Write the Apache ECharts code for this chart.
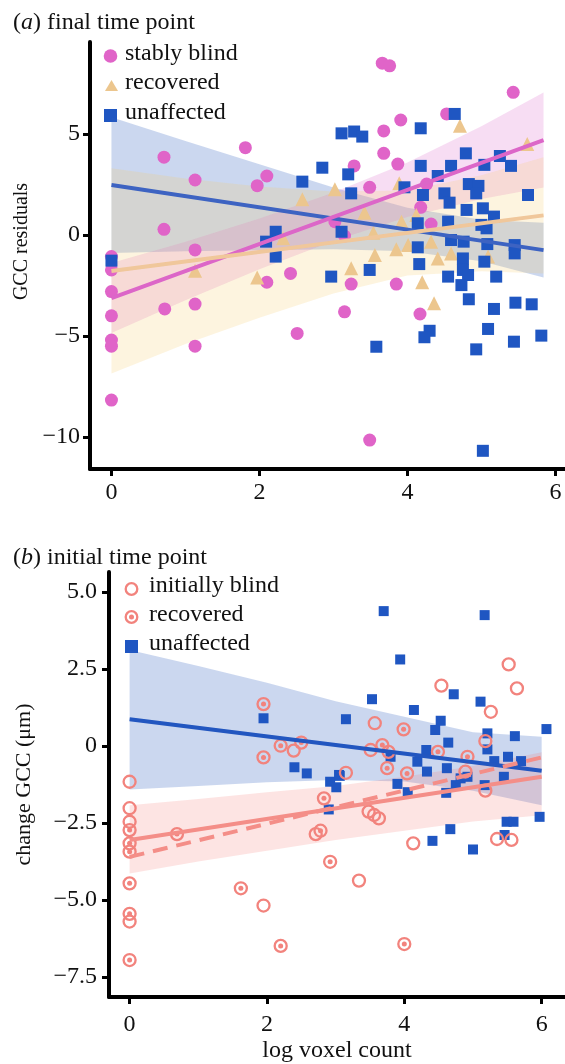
<!DOCTYPE html>
<html>
<head>
<meta charset="utf-8">
<script src="https://cdn.jsdelivr.net/npm/echarts@6/dist/echarts.min.js"></script>
<style>
  html, body { margin: 0; padding: 0; background: #fff; }
  #main { width: 565px; height: 1064px; }
</style>
</head>
<body>
<div id="main"></div>
<script>
// ---- panel (a) final time point : [log voxel count, GCC residual]
var blindA = [[0.71,3.85],[1.81,4.32],[1.13,2.72],[2.10,2.92],[1.97,2.44],[0.71,0.28],[1.13,-0.74],[0,-1.07],
  [0,-1.73],[0,-2.8],[0.72,-3.66],[1.13,-3.42],[0,-4.0],[0,-5.2],[0,-5.5],[1.13,-5.5],[0,-8.17],[2.1,-2.34],
  [2.42,-1.9],[2.51,-4.87],[3.24,-2.43],[3.85,-2.43],[3.15,-3.8],[4.17,-3.91],[3.49,-10.15],[3.66,8.5],[3.76,8.37],
  [5.43,7.06],[4.53,5.99],[3.91,5.69],[3.68,5.15],[3.68,4.04],[3.28,3.42],[3.87,3.51],[3.49,2.36],[4.26,2.52],
  [4.18,1.37],[4.32,0.54],[3.02,0.66],[3.15,-0.05]];
var recoveredA = [[2.58,1.77],[2.32,-0.16],[1.97,-2.1],[1.13,-1.77],[4.71,5.4],[5.62,4.5],[3.02,2.26],[3.89,2.56],
  [3.42,1.1],[3.92,0.66],[4.12,0.99],[3.54,0.11],[4.32,-0.33],[3.85,-0.71],[3.56,-0.99],[4.41,-1.16],[4.59,-0.91],
  [3.24,-1.65],[5.09,-1.07],[4.01,-0.5],[4.2,-2.34],[4.36,-3.38]];
var unaffectedA = [[0,-1.27],[2.58,2.64],[2.85,3.33],[2.22,0.16],[2.09,-0.33],[2.22,-1.07],[2.97,-2.06],[3.11,5.03],
  [3.28,5.12],[3.39,4.87],[4.18,5.28],[4.64,5.99],[3.2,3.0],[3.24,2.06],[4.18,3.42],[4.59,3.42],[4.79,4.04],[5.04,3.47],
  [5.25,3.91],[5.40,3.42],[5.63,1.98],[4.41,2.92],[3.96,2.36],[4.21,1.98],[4.5,2.06],[4.57,1.6],[4.83,2.52],[4.96,2.43],
  [4.93,2.06],[4.8,1.24],[5.02,1.32],[5.17,0.91],[4.14,0.58],[4.55,0.66],[5.0,0.5],[5.07,0.33],[3.11,0.16],[4.59,-0.25],
  [4.76,-0.33],[5.08,-0.45],[5.45,-0.5],[4.14,-0.61],[3.49,-1.73],[4.16,-1.44],[4.75,-1.16],[5.04,-1.32],[5.45,-0.91],
  [4.75,-1.73],[4.55,-2.06],[5.2,-2.06],[4.82,-1.98],[4.73,-2.48],[4.83,-3.18],[5.17,-3.66],[5.46,-3.35],[5.68,-3.43],
  [5.09,-4.65],[4.3,-4.74],[4.23,-5.06],[5.81,-4.98],[5.44,-5.28],[4.93,-5.66],[3.58,-5.53],[5.02,-10.68]];

// fitted lines (a)
var fitBlindA = [[0,-3.12],[5.84,4.7]];
var fitRecoveredA = [[0,-1.78],[5.84,0.97]];
var fitUnaffectedA = [[0,2.47],[5.84,-0.75]];
// confidence bands (a)
var bandXA = [0, 1, 2, 3, 4, 5, 5.84];
var blindLoA = [-4.85,-3.23,-1.69,-0.3,0.89,1.78,2.35];
var blindHiA = [-1.39,-0.33,0.81,2.1,3.59,5.38,7.05];
var recLoA = [-6.85,-5.4,-4.1,-2.9,-2.0,-1.8,-1.9];
var recHiA = [3.3,2.8,2.4,2.15,2.2,2.95,3.85];
var unLoA = [-0.89,-0.81,-0.76,-0.71,-0.8,-1.3,-2.1];
var unHiA = [5.83,4.65,3.5,2.35,1.35,0.75,0.6];

// ---- panel (b) initial time point : [log voxel count, change GCC]
var blindB = [[2.39,-0.15],[0,-1.16],[0,-2.02],[0,-2.46],[0,-5.7],[1.95,-5.18],[2.71,-2.86],[5.52,2.65],[4.54,1.96],
  [5.64,1.87],[5.26,1.11],[3.57,0.74],[5.18,0.16],[3.51,-0.13],[3.77,-0.19],[3.15,-0.87],[4.89,-0.83],[3.48,-2.13],
  [3.56,-2.24],[3.63,-2.35],[3.34,-4.37],[4.13,-3.16],[5.18,-1.45],[5.35,-3.02],[5.56,-3.05]];
var recoveredB = [[1.95,1.36],[1.95,-0.37],[2.2,0.01],[2.5,0.11],[0,-2.73],[0,-3.16],[0,-3.43],[0,-4.46],[0,-5.45],
  [0,-6.95],[0.69,-2.86],[1.62,-4.62],[2.2,-6.49],[2.83,-1.7],[2.78,-2.75],[2.92,-3.76],[3.99,0.54],[3.68,0.03],
  [4.49,-0.19],[4.92,-0.35],[3.75,-0.72],[4.04,-0.89],[4.0,-6.43]];
var unaffectedB = [[1.95,0.9],[2.4,-0.69],[2.58,-0.89],[2.92,-1.16],[3.7,4.38],[5.17,4.25],[3.94,2.81],[3.53,1.52],
  [4.72,1.68],[5.11,1.44],[4.14,1.17],[3.15,0.87],[4.53,0.82],[4.45,0.52],[4.64,0.11],[5.21,0.41],[5.61,0.32],[6.07,0.55],
  [5.21,-0.11],[4.32,-0.13],[4.19,-0.51],[3.05,-0.94],[4.33,-0.83],[4.62,-0.72],[5.31,-0.49],[5.51,-0.35],[5.7,-0.49],
  [5.45,-1.0],[3.8,-0.35],[3.01,-1.34],[3.06,-0.97],[3.9,-1.23],[4.61,-1.52],[4.75,-1.27],[4.82,-1.05],[4.92,-1.0],
  [5.17,-1.27],[4.05,-1.5],[2.9,-2.06],[4.67,-2.7],[4.41,-3.08],[5.0,-3.36],[5.49,-2.46],[5.59,-2.46],[5.46,-2.89],[5.97,-2.3]];

var fitBlindB = [[0,-3.05],[6,-1.0]];
var fitRecoveredB = [[0,-3.6],[6,-0.37]];
var fitUnaffectedB = [[0,0.87],[6,-0.8]];
var bandXB = [0, 1, 2, 3, 4, 5, 6];
var blindLoB = [-4.14,-3.75,-3.4,-3.05,-2.75,-2.45,-2.25];
var blindHiB = [-1.92,-1.72,-1.5,-1.3,-1.0,-0.65,-0.2];
var unLoB = [-1.41,-1.3,-1.18,-1.1,-1.15,-1.45,-1.92];
var unHiB = [3.12,2.6,2.05,1.45,0.95,0.45,0.3];

// ticks
var xTicks = [0, 2, 4, 6];
var yTicksA = [-10, -5, 0, 5];
var yLabelsA = ['−10', '−5', '0', '5'];
var yTicksB = [-7.5, -5, -2.5, 0, 2.5, 5];
var yLabelsB = ['−7.5', '−5.0', '−2.5', '0', '2.5', '5.0'];

var FONT = "'Liberation Serif', 'Times New Roman', Times, serif";
var PINK = '#e064c8', TAN = '#ecc68e', BLUE = '#1f56c2', SALMON = '#f2837d';

var chart = echarts.init(document.getElementById('main'));

function band(xs, lo, hi, fill, idx) {
  var rows = xs.map(function (x, i) { return [x, lo[i], hi[i]]; });
  return {
    type: 'custom', xAxisIndex: idx, yAxisIndex: idx, silent: true,
    data: rows,
    encode: { x: 0, y: [1, 2] },
    renderItem: function (params, api) {
      if (params.dataIndex !== 0) return;
      var top = rows.map(function (r) { return api.coord([r[0], r[2]]); });
      var bot = rows.map(function (r) { return api.coord([r[0], r[1]]); }).reverse();
      return { type: 'polygon', shape: { points: top.concat(bot) }, style: { fill: fill } };
    }
  };
}

function fit(data, color, idx, dash) {
  return {
    type: 'line', xAxisIndex: idx, yAxisIndex: idx, data: data, showSymbol: false, silent: true,
    lineStyle: { color: color, width: 4, type: dash ? [15, 9] : 'solid' }
  };
}

function xAxis(idx, min, max, margin, name) {
  return {
    gridIndex: idx, type: 'value', min: min, max: max,
    name: name || '', nameLocation: 'middle', nameGap: 42,
    nameTextStyle: { fontFamily: FONT, fontSize: 24, color: '#111' },
    axisLine: { onZero: false, lineStyle: { color: '#000', width: 4 } },
    axisTick: { customValues: xTicks, length: 7, lineStyle: { width: 3, color: '#000' } },
    axisLabel: { customValues: xTicks, margin: margin, fontFamily: FONT, fontSize: 24, color: '#111' },
    splitLine: { show: false }
  };
}

function yAxis(idx, min, max, ticks, labels, name, gap, margin, nameSize, namePad) {
  return {
    gridIndex: idx, type: 'value', min: min, max: max,
    name: name, nameLocation: 'middle', nameGap: gap,
    nameTextStyle: { fontFamily: FONT, fontSize: nameSize, color: '#111', padding: namePad },
    axisLine: { show: true, onZero: false, lineStyle: { color: '#000', width: 4 } },
    axisTick: { show: true, customValues: ticks, length: 7, lineStyle: { width: 3, color: '#000' } },
    axisLabel: {
      customValues: ticks, margin: margin, fontFamily: FONT, fontSize: 24, color: '#111',
      formatter: function (v) {
        for (var i = 0; i < ticks.length; i++) if (Math.abs(ticks[i] - v) < 1e-6) return labels[i];
        return '';
      }
    },
    splitLine: { show: false }
  };
}

function lt(x, y, s) {
  return { type: 'text', left: x, top: y - 13,
    style: { text: s, fontFamily: FONT, fontSize: 24, fill: '#111' } };
}

var titleStyle = { fontFamily: FONT, fontSize: 24, fontWeight: 'normal', color: '#111',
  rich: { i: { fontFamily: FONT, fontSize: 24, fontStyle: 'italic', color: '#111' } } };

var option = {
  animation: false,
  title: [
    { text: '({i|a}) final time point', left: 8, top: 6, textStyle: titleStyle },
    { text: '({i|b}) initial time point', left: 8, top: 541, textStyle: titleStyle }
  ],
  grid: [
    { left: 90, top: 42, width: 475, height: 427 },
    { left: 109, top: 572, width: 456, height: 425 }
  ],
  xAxis: [
    xAxis(0, -0.29, 6.13, 12),
    xAxis(1, -0.3, 6.34, 16, 'log voxel count')
  ],
  yAxis: [
    yAxis(0, -11.58, 9.55, yTicksA, yLabelsA, 'GCC residuals', 58, 10, 20, [0, 0, 0, 28]),
    yAxis(1, -8.15, 5.65, yTicksB, yLabelsB, 'change GCC (μm)', 74, 12, 22, 0)
  ],
  series: [
    { type: 'scatter', xAxisIndex: 0, yAxisIndex: 0, data: blindA, symbol: 'circle', symbolSize: 13,
      itemStyle: { color: PINK, opacity: 1 } },
    { type: 'scatter', xAxisIndex: 0, yAxisIndex: 0, data: recoveredA, symbol: 'triangle', symbolSize: 14,
      itemStyle: { color: TAN, opacity: 1 } },
    { type: 'scatter', xAxisIndex: 0, yAxisIndex: 0, data: unaffectedA, symbol: 'rect', symbolSize: 12,
      itemStyle: { color: BLUE, opacity: 1 } },
    band(bandXA, unLoA, unHiA, 'rgba(48,96,192,0.25)', 0),
    band(bandXA, blindLoA, blindHiA, 'rgba(217,99,199,0.22)', 0),
    band(bandXA, recLoA, recHiA, 'rgba(245,205,110,0.22)', 0),
    fit(fitUnaffectedA, '#3d63c2', 0),
    fit(fitBlindA, '#dc66c8', 0),
    fit(fitRecoveredA, '#f0c79b', 0),

    { type: 'scatter', xAxisIndex: 1, yAxisIndex: 1, data: unaffectedB, symbol: 'rect', symbolSize: 10,
      itemStyle: { color: BLUE, opacity: 1 } },
    { type: 'scatter', xAxisIndex: 1, yAxisIndex: 1, data: blindB, symbol: 'circle', symbolSize: 12,
      itemStyle: { color: 'rgba(0,0,0,0)', borderColor: SALMON, borderWidth: 2.3, opacity: 1 } },
    { type: 'scatter', xAxisIndex: 1, yAxisIndex: 1, data: recoveredB, symbol: 'circle', symbolSize: 12,
      itemStyle: { color: 'rgba(0,0,0,0)', borderColor: SALMON, borderWidth: 2.3, opacity: 1 } },
    { type: 'scatter', xAxisIndex: 1, yAxisIndex: 1, data: recoveredB, symbol: 'circle', symbolSize: 5,
      itemStyle: { color: SALMON, opacity: 1 } },
    band(bandXB, unLoB, unHiB, 'rgba(48,96,192,0.25)', 1),
    band(bandXB, blindLoB, blindHiB, 'rgba(245,120,115,0.2)', 1),
    fit(fitUnaffectedB, '#2256c0', 1),
    fit(fitBlindB, '#f48e88', 1),
    fit(fitRecoveredB, '#f48e88', 1, true)
  ],
  graphic: [
    { type: 'circle', shape: { cx: 110.5, cy: 56, r: 6.8 }, style: { fill: PINK } },
    lt(125, 55, 'stably blind'),
    { type: 'polygon', shape: { points: [[105, 91], [118, 91], [111.5, 80]] }, style: { fill: TAN } },
    lt(125, 84, 'recovered'),
    { type: 'rect', shape: { x: 104, y: 109, width: 13, height: 13 }, style: { fill: BLUE } },
    lt(125, 114, 'unaffected'),

    { type: 'circle', shape: { cx: 131.5, cy: 589, r: 5.8 }, style: { fill: 'none', stroke: SALMON, lineWidth: 2.3 } },
    lt(149, 587, 'initially blind'),
    { type: 'circle', shape: { cx: 131.5, cy: 617, r: 5.8 }, style: { fill: 'none', stroke: SALMON, lineWidth: 2.3 } },
    { type: 'circle', shape: { cx: 131.5, cy: 617, r: 2.5 }, style: { fill: SALMON } },
    lt(149, 616, 'recovered'),
    { type: 'rect', shape: { x: 125, y: 640, width: 13, height: 13 }, style: { fill: BLUE } },
    lt(149, 645, 'unaffected')
  ]
};
chart.setOption(option);
</script>
</body>
</html>
